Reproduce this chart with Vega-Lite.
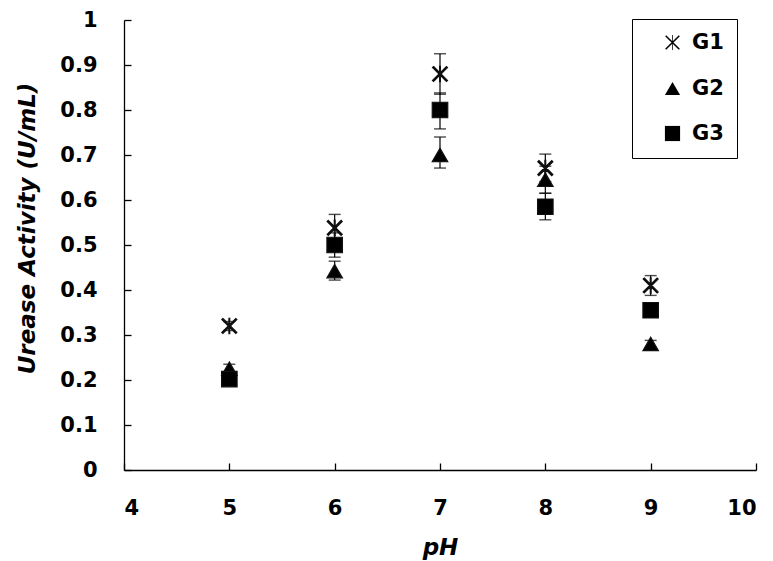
{
  "$schema": "https://vega.github.io/schema/vega-lite/v6.json",
  "width": 632,
  "height": 450,
  "autosize": {"type": "none"},
  "padding": {"left": 124, "top": 20, "right": 17, "bottom": 91},
  "background": "white",
  "config": {
    "view": {"stroke": null},
    "font": "DejaVu Sans",
    "axis": {
      "grid": false,
      "domainColor": "#000",
      "domainWidth": 1.3,
      "tickColor": "#000",
      "tickSize": -7,
      "tickWidth": 1.3,
      "labelFont": "DejaVu Sans",
      "labelFontWeight": "bold",
      "labelFontSize": 21,
      "labelColor": "#000",
      "titleFont": "DejaVu Sans",
      "titleFontWeight": "bold",
      "titleFontStyle": "italic",
      "titleFontSize": 23,
      "titleColor": "#000"
    }
  },
  "data": {
    "values": [
      {"pH": 5, "group": "G1", "mean": 0.32, "lo": 0.31, "hi": 0.33},
      {"pH": 6, "group": "G1", "mean": 0.538, "lo": 0.508, "hi": 0.568},
      {"pH": 7, "group": "G1", "mean": 0.88, "lo": 0.835, "hi": 0.925},
      {"pH": 8, "group": "G1", "mean": 0.671, "lo": 0.641, "hi": 0.702},
      {"pH": 9, "group": "G1", "mean": 0.41, "lo": 0.388, "hi": 0.432},
      {"pH": 5, "group": "G2", "mean": 0.225, "lo": 0.217, "hi": 0.235},
      {"pH": 6, "group": "G2", "mean": 0.442, "lo": 0.422, "hi": 0.464},
      {"pH": 7, "group": "G2", "mean": 0.70, "lo": 0.671, "hi": 0.74},
      {"pH": 8, "group": "G2", "mean": 0.645, "lo": 0.615, "hi": 0.675},
      {"pH": 9, "group": "G2", "mean": 0.28, "lo": 0.272, "hi": 0.288},
      {"pH": 5, "group": "G3", "mean": 0.202, "lo": 0.202, "hi": 0.202},
      {"pH": 6, "group": "G3", "mean": 0.5, "lo": 0.473, "hi": 0.527},
      {"pH": 7, "group": "G3", "mean": 0.8, "lo": 0.758, "hi": 0.838},
      {"pH": 8, "group": "G3", "mean": 0.585, "lo": 0.556, "hi": 0.615},
      {"pH": 9, "group": "G3", "mean": 0.355, "lo": 0.355, "hi": 0.355}
    ]
  },
  "encoding": {
    "x": {
      "field": "pH", "type": "quantitative",
      "scale": {"domain": [4, 10], "nice": false, "zero": false},
      "axis": {"values": [4, 5, 6, 7, 8, 9, 10], "title": "pH", "labelPadding": 34, "titlePadding": 18}
    }
  },
  "layer": [
    {
      "mark": {"type": "rule", "color": "#000", "strokeWidth": 1.2},
      "encoding": {
        "y": {"field": "lo", "type": "quantitative"},
        "y2": {"field": "hi"}
      }
    },
    {
      "mark": {"type": "tick", "orient": "horizontal", "color": "#000", "size": 12, "thickness": 1.4},
      "encoding": {"y": {"field": "lo", "type": "quantitative"}}
    },
    {
      "mark": {"type": "tick", "orient": "horizontal", "color": "#000", "size": 12, "thickness": 1.4},
      "encoding": {"y": {"field": "hi", "type": "quantitative"}}
    },
    {
      "mark": {"type": "point", "filled": true, "fill": "#000", "stroke": "#111", "strokeWidth": 1.2, "opacity": 1},
      "encoding": {
        "y": {
          "field": "mean", "type": "quantitative",
          "scale": {"domain": [0, 1], "nice": false},
          "axis": {"values": [0, 0.1, 0.2, 0.3, 0.4, 0.5, 0.6, 0.7, 0.8, 0.9, 1], "format": "~g", "title": "Urease Activity (U/mL)", "labelPadding": 34, "titlePadding": 20, "titleY": 208}
        },
        "shape": {
          "field": "group", "type": "nominal",
          "scale": {"domain": ["G1", "G2", "G3"], "range": ["M-0.829,-0.971L0.971,0.829L0.829,0.971L-0.971,-0.829ZM-0.971,0.829L0.829,-0.971L0.971,-0.829L-0.829,0.971ZM-0.05,-1L0.05,-1L0.05,1L-0.05,1Z", "triangle-up", "square"]},
          "legend": {
            "title": null,
            "orient": "none",
            "legendX": 508,
            "legendY": -1,
            "strokeColor": "#000",
            "padding": 13,
            "symbolOffset": 17,
            "symbolSize": 230,
            "symbolFillColor": "#000",
            "symbolStrokeColor": "#000",
            "labelFont": "DejaVu Sans",
            "labelFontSize": 21,
            "labelFontWeight": "bold",
            "labelColor": "#000",
            "labelOffset": 9,
            "labelExpr": "datum.label + '  '",
            "rowPadding": 23,
            "encode": {
              "legend": {"update": {"strokeWidth": {"value": 1.3}}},
              "symbols": {"update": {"stroke": {"value": "#000"}, "strokeWidth": {"value": 1.2}, "fill": {"value": "#000"}}}
            }
          }
        },
        "size": {"value": 240}
      }
    }
  ]
}
